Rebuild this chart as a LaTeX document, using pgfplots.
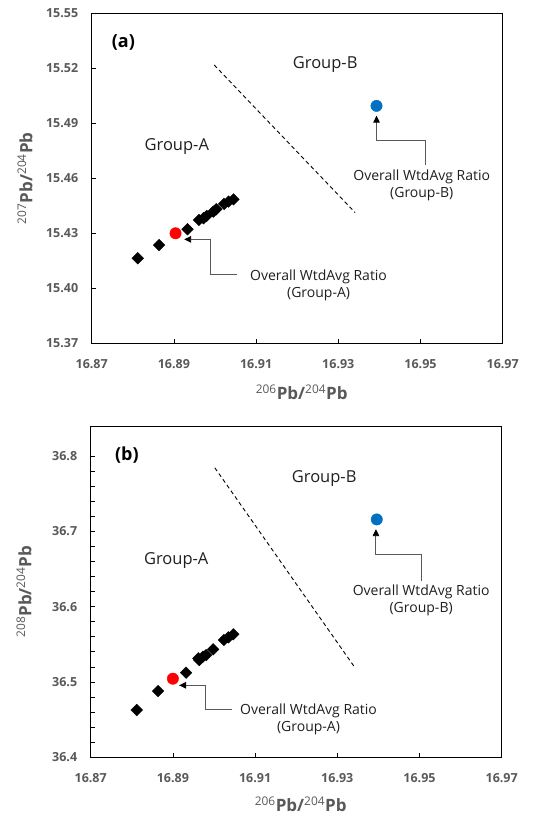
\documentclass[border=0pt]{standalone}
\usepackage{pgfplots}
\pgfplotsset{compat=1.18}
\usepackage{fontspec}
\setmainfont{Open Sans}
\usetikzlibrary{arrows.meta}
\definecolor{tickgray}{HTML}{595959}
\definecolor{linegray}{HTML}{595959}
\definecolor{ptblue}{HTML}{0070C0}
\definecolor{ptred}{HTML}{FF0000}
\pgfplotstableread{
x y
16.8812 15.4164
16.8864 15.4236
16.8933 15.4322
16.8961 15.4373
16.8972 15.4382
16.8980 15.4395
16.8996 15.4418
16.9003 15.4431
16.9022 15.4460
16.9033 15.4473
16.9045 15.4485
}\dataA
\pgfplotstableread{
x y
16.8812 36.4628
16.8864 36.4880
16.8932 36.5124
16.8962 36.5314
16.8964 36.5292
16.8973 36.5336
16.8981 36.5358
16.8998 36.5434
16.9024 36.5558
16.9035 36.5593
16.9047 36.5633
}\dataB
\tikzset{
  annot/.style={font=\fontsize{14}{17}\selectfont, text=black!88, align=center, inner sep=0pt},
  grp/.style={font=\fontsize{16.5}{19}\selectfont, text=black!88, inner sep=0pt},
}
\pgfplotsset{
  myaxis/.style={
    scale only axis,
    width=411pt,
    xmin=16.87, xmax=16.97,
    xtick={16.87,16.89,...,16.97},
    minor x tick num=3,
    tick align=inside,
    xtick pos=left, ytick pos=left,
    major tick length=4pt, minor tick length=4pt,
    tick style={black, line width=0.8pt},
    axis line style={black, line width=1pt},
    /pgf/number format/assume math mode=true,
    ticklabel style={font=\bfseries\fontsize{12.5}{14}\selectfont, text=tickgray},
    xticklabel style={yshift=-13pt, /pgf/number format/fixed, /pgf/number format/fixed zerofill, /pgf/number format/precision=2},
    label style={font=\bfseries\fontsize{17}{20}\selectfont, text=tickgray},
    xlabel={\textsuperscript{\mdseries 206}Pb/\textsuperscript{\mdseries 204}Pb},
    ylabel style={at={(axis description cs:-0.162,0.5)}, anchor=center},
    clip=false,
  },
  diam/.style={only marks, mark=square*, mark size=4.1pt, mark options={rotate=45, fill=black, draw=black}},
  avg/.style={only marks, mark=*, mark size=5.7pt},
  conn/.style={linegray, line width=0.9pt, -{Triangle[length=7pt,width=6.5pt,color=black]}},
}
\begin{document}
\begin{tikzpicture}[x=1pt,y=1pt]
\useasboundingbox (0,0) rectangle (549,816);
\begin{axis}[myaxis,
  at={(91.7pt,472.7pt)}, anchor=south west,
  height=330pt,
  ymin=15.37, ymax=15.55,
  ytick={15.37,15.40,...,15.55},
  minor y tick num=2,
  yticklabel style={xshift=-10pt, /pgf/number format/fixed, /pgf/number format/fixed zerofill, /pgf/number format/precision=2},
  xlabel style={at={(axis description cs:0.511,-0.148)}, anchor=center},
  ylabel={\textsuperscript{\mdseries 207}Pb/\textsuperscript{\mdseries 204}Pb},
]
\addplot[black, line width=0.9pt, dash pattern=on 4pt off 3pt] coordinates {(16.8998,15.5218) (16.9341,15.4413)};
\addplot[diam] table {\dataA};
\addplot[avg, mark options={fill=ptred, draw=ptred}] coordinates {(16.8904,15.4300)};
\addplot[avg, mark options={fill=ptblue, draw=ptblue}] coordinates {(16.9393,15.4995)};
\addplot[conn] coordinates {(16.9513,15.4673) (16.9513,15.4809) (16.9393,15.4809) (16.9393,15.4942)};
\addplot[conn] coordinates {(16.9054,15.4073) (16.8990,15.4073) (16.8990,15.4267) (16.8925,15.4267)};
\node[font=\bfseries\fontsize{18}{20}\selectfont] at (axis cs:16.8777,15.534) {(a)};
\node[grp] at (axis cs:16.9268,15.5222) {Group-B};
\node[grp] at (axis cs:16.8907,15.4773) {Group-A};
\node[annot] at (axis cs:16.9503,15.4559) {Overall WtdAvg Ratio\\(Group-B)};
\node[annot] at (axis cs:16.9252,15.4016) {Overall WtdAvg Ratio\\(Group-A)};
\end{axis}
\begin{axis}[myaxis,
  at={(90.7pt,58.7pt)}, anchor=south west,
  height=331.3pt,
  ymin=36.4, ymax=36.84,
  ytick={36.4,36.5,...,36.8},
  minor y tick num=4,
  yticklabel style={xshift=-10pt, /pgf/number format/fixed, /pgf/number format/fixed zerofill, /pgf/number format/precision=1},
  xlabel style={at={(axis description cs:0.511,-0.142)}, anchor=center},
  ylabel={\textsuperscript{\mdseries 208}Pb/\textsuperscript{\mdseries 204}Pb},
]
\addplot[black, line width=0.9pt, dash pattern=on 4pt off 3pt] coordinates {(16.9002,36.7845) (16.9343,36.5190)};
\addplot[diam] table {\dataB};
\addplot[avg, mark options={fill=ptred, draw=ptred}] coordinates {(16.8900,36.5044)};
\addplot[avg, mark options={fill=ptblue, draw=ptblue}] coordinates {(16.9396,36.7159)};
\addplot[conn] coordinates {(16.9504,36.6345) (16.9504,36.6699) (16.9394,36.6699) (16.9394,36.7030)};
\addplot[conn] coordinates {(16.9045,36.4637) (16.8980,36.4637) (16.8980,36.4956) (16.8915,36.4956)};
\node[font=\bfseries\fontsize{18}{20}\selectfont] at (axis cs:16.8788,36.8013) {(b)};
\node[grp] at (axis cs:16.9268,36.7704) {Group-B};
\node[grp] at (axis cs:16.8908,36.6611) {Group-A};
\node[annot] at (axis cs:16.9504,36.6087) {Overall WtdAvg Ratio\\(Group-B)};
\node[annot] at (axis cs:16.9230,36.4502) {Overall WtdAvg Ratio\\(Group-A)};
\end{axis}
\end{tikzpicture}
\end{document}
